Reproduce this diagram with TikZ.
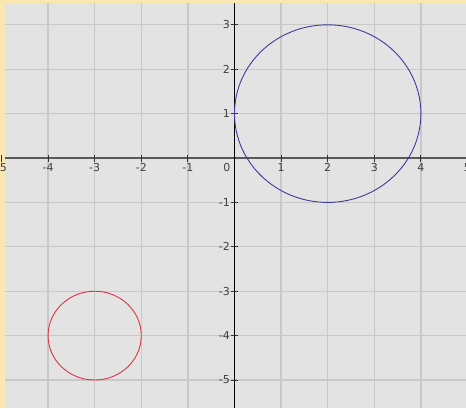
\documentclass[tikz,border=0pt]{standalone}
\usepackage{fontspec}
\setmainfont{DejaVu Sans}
\definecolor{frameyellow}{HTML}{FAE8B2}
\definecolor{plotbg}{HTML}{E3E3E3}
\definecolor{gridgray}{HTML}{C8C8C8}
\definecolor{xaxisgray}{HTML}{585858}
\definecolor{bluecurve}{HTML}{3C3CA0}
\definecolor{redcurve}{HTML}{E03444}
\tikzset{
  gridline/.style={draw=gridgray, line width=1.3pt},
  ticklabel/.style={inner sep=0pt, font=\fontsize{11}{11}\selectfont, text=black!75},
  tickmark/.style={draw=black!80, line width=0.9pt},
}
\begin{document}
\begin{tikzpicture}[x=46.6pt,y=44.4pt]
\useasboundingbox (-5.032,3.559) rectangle (4.968,-5.631);
\clip (-5.032,3.559) rectangle (4.968,-5.631);
\fill[frameyellow] (-5.032,3.559) rectangle (4.968,-5.631);
\fill[plotbg] (-4.925,3.491) rectangle (4.968,-5.631);
% grid
\foreach \i in {-4,...,4} \draw[gridline] (\i,3.491) -- (\i,-5.631);
\foreach \j in {-5,...,3} \draw[gridline] (-4.925,\j) -- (4.968,\j);
% axes
\draw[draw=xaxisgray, line width=1.3pt] (-4.925,0) -- (4.968,0);
\draw[draw=black, line width=1.3pt] (0,3.491) -- (0,-5.631);
% x ticks and labels
\foreach \i in {-5,-4,-3,-2,-1,1,2,3,4,5} {
  \draw[tickmark] (\i,0) ++(0,3.5pt) -- ++(0,-7pt);
  \node[ticklabel, anchor=north, yshift=-5.5pt] (xl\i) at (\i,0) {\ifnum\i<0 -\the\numexpr-\i\relax\else\i\fi};
}
\node[ticklabel, anchor=north east, xshift=-4pt, yshift=-5.5pt] (zero) at (0,0) {0};
% y ticks and labels
\foreach \j in {-5,-4,-3,-2,-1,1,2,3} {
  \draw[tickmark] (0,\j) ++(-3.5pt,0) -- ++(7pt,0);
  \node[ticklabel, anchor=east, xshift=-4.5pt] (yl\j) at (0,\j) {\ifnum\j<0 -\the\numexpr-\j\relax\else\j\fi};
}
% curves
\draw[bluecurve, line width=0.9pt] (2,1) circle[x radius=2, y radius=2];
\draw[redcurve, line width=0.9pt] (-3,-4) circle[x radius=1, y radius=1];
\end{tikzpicture}
\end{document}
